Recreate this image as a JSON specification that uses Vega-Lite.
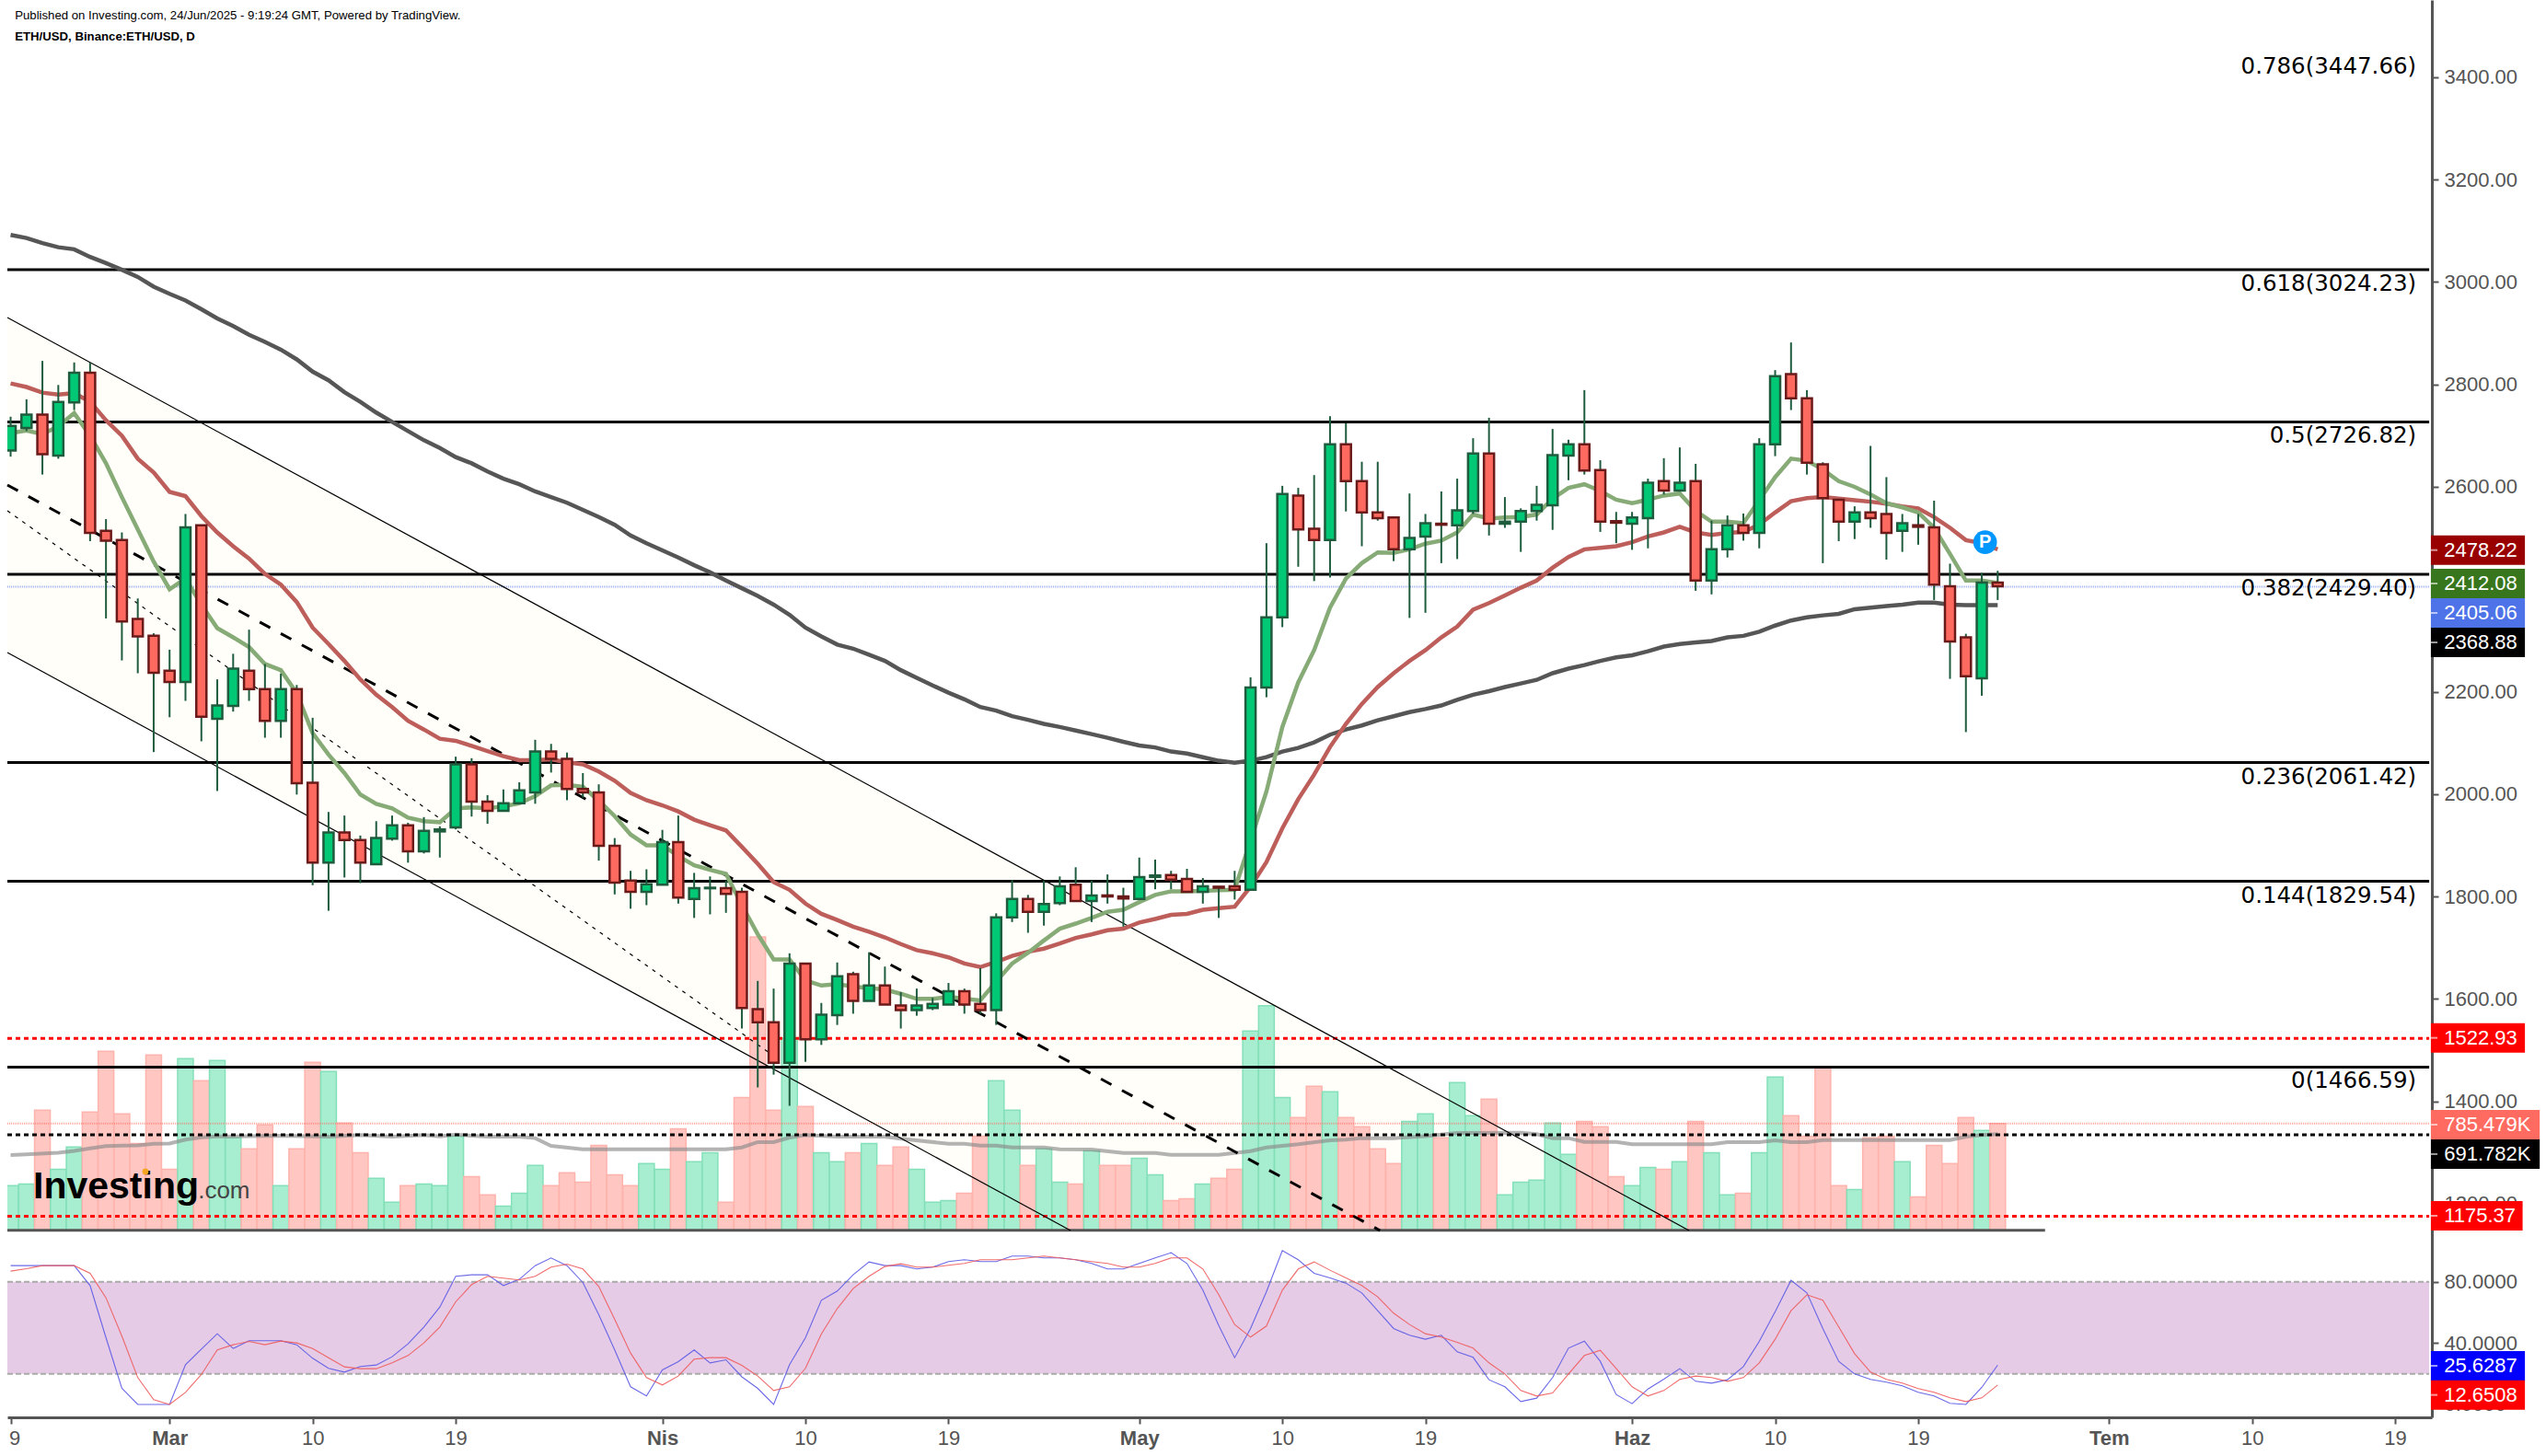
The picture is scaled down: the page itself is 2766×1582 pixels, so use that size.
{
"$schema":"https://vega.github.io/schema/vega-lite/v6.json",
"width":2634,"height":1540,
"autosize":{"type":"none"},
"padding":{"left":8,"top":0,"right":124,"bottom":42},
"background":"#ffffff",
"config":{"view":{"stroke":null},"font":"Liberation Sans"},
"datasets":{
"candles":[
{"date":"2025-02-19","open":2671,"high":2737,"low":2659,"close":2719,"dir":"up"},
{"date":"2025-02-20","open":2715,"high":2771,"low":2709,"close":2741,"dir":"up"},
{"date":"2025-02-21","open":2741,"high":2846,"low":2624,"close":2664,"dir":"down"},
{"date":"2025-02-22","open":2661,"high":2799,"low":2655,"close":2766,"dir":"up"},
{"date":"2025-02-23","open":2765,"high":2843,"low":2750,"close":2823,"dir":"up"},
{"date":"2025-02-24","open":2823,"high":2843,"low":2494,"close":2510,"dir":"down"},
{"date":"2025-02-25","open":2514,"high":2537,"low":2343,"close":2495,"dir":"down"},
{"date":"2025-02-26","open":2496,"high":2511,"low":2261,"close":2337,"dir":"down"},
{"date":"2025-02-27","open":2342,"high":2382,"low":2236,"close":2308,"dir":"down"},
{"date":"2025-02-28","open":2309,"high":2314,"low":2082,"close":2237,"dir":"down"},
{"date":"2025-03-01","open":2241,"high":2282,"low":2150,"close":2219,"dir":"down"},
{"date":"2025-03-02","open":2219,"high":2547,"low":2182,"close":2521,"dir":"up"},
{"date":"2025-03-03","open":2525,"high":2525,"low":2103,"close":2151,"dir":"down"},
{"date":"2025-03-04","open":2147,"high":2224,"low":2006,"close":2173,"dir":"up"},
{"date":"2025-03-05","open":2172,"high":2274,"low":2161,"close":2245,"dir":"up"},
{"date":"2025-03-06","open":2241,"high":2321,"low":2182,"close":2205,"dir":"down"},
{"date":"2025-03-07","open":2205,"high":2254,"low":2110,"close":2143,"dir":"down"},
{"date":"2025-03-08","open":2143,"high":2235,"low":2110,"close":2205,"dir":"up"},
{"date":"2025-03-09","open":2205,"high":2213,"low":1999,"close":2021,"dir":"down"},
{"date":"2025-03-10","open":2022,"high":2149,"low":1822,"close":1866,"dir":"down"},
{"date":"2025-03-11","open":1866,"high":1965,"low":1772,"close":1925,"dir":"up"},
{"date":"2025-03-12","open":1925,"high":1958,"low":1837,"close":1910,"dir":"down"},
{"date":"2025-03-13","open":1910,"high":1919,"low":1826,"close":1866,"dir":"down"},
{"date":"2025-03-14","open":1863,"high":1947,"low":1863,"close":1914,"dir":"up"},
{"date":"2025-03-15","open":1913,"high":1958,"low":1909,"close":1939,"dir":"up"},
{"date":"2025-03-16","open":1939,"high":1944,"low":1866,"close":1888,"dir":"down"},
{"date":"2025-03-17","open":1888,"high":1955,"low":1884,"close":1928,"dir":"up"},
{"date":"2025-03-18","open":1927,"high":1937,"low":1876,"close":1931,"dir":"up"},
{"date":"2025-03-19","open":1935,"high":2073,"low":1931,"close":2058,"dir":"up"},
{"date":"2025-03-20","open":2058,"high":2070,"low":1956,"close":1985,"dir":"down"},
{"date":"2025-03-21","open":1985,"high":1998,"low":1942,"close":1967,"dir":"down"},
{"date":"2025-03-22","open":1967,"high":2009,"low":1967,"close":1982,"dir":"up"},
{"date":"2025-03-23","open":1982,"high":2023,"low":1982,"close":2007,"dir":"up"},
{"date":"2025-03-24","open":2003,"high":2106,"low":1981,"close":2083,"dir":"up"},
{"date":"2025-03-25","open":2083,"high":2098,"low":2042,"close":2069,"dir":"down"},
{"date":"2025-03-26","open":2069,"high":2081,"low":1988,"close":2010,"dir":"down"},
{"date":"2025-03-27","open":2010,"high":2041,"low":1993,"close":2003,"dir":"down"},
{"date":"2025-03-28","open":2003,"high":2019,"low":1870,"close":1899,"dir":"down"},
{"date":"2025-03-29","open":1899,"high":1914,"low":1804,"close":1827,"dir":"down"},
{"date":"2025-03-30","open":1831,"high":1850,"low":1776,"close":1809,"dir":"down"},
{"date":"2025-03-31","open":1809,"high":1853,"low":1783,"close":1824,"dir":"up"},
{"date":"2025-04-01","open":1823,"high":1930,"low":1823,"close":1906,"dir":"up"},
{"date":"2025-04-02","open":1906,"high":1958,"low":1786,"close":1798,"dir":"down"},
{"date":"2025-04-03","open":1795,"high":1846,"low":1758,"close":1816,"dir":"up"},
{"date":"2025-04-04","open":1816,"high":1839,"low":1765,"close":1817,"dir":"up"},
{"date":"2025-04-05","open":1816,"high":1831,"low":1768,"close":1805,"dir":"down"},
{"date":"2025-04-06","open":1809,"high":1817,"low":1542,"close":1582,"dir":"down"},
{"date":"2025-04-07","open":1580,"high":1635,"low":1427,"close":1554,"dir":"down"},
{"date":"2025-04-08","open":1554,"high":1620,"low":1452,"close":1475,"dir":"down"},
{"date":"2025-04-09","open":1475,"high":1689,"low":1391,"close":1669,"dir":"up"},
{"date":"2025-04-10","open":1669,"high":1669,"low":1477,"close":1521,"dir":"down"},
{"date":"2025-04-11","open":1521,"high":1592,"low":1510,"close":1569,"dir":"up"},
{"date":"2025-04-12","open":1568,"high":1671,"low":1549,"close":1644,"dir":"up"},
{"date":"2025-04-13","open":1648,"high":1653,"low":1571,"close":1596,"dir":"down"},
{"date":"2025-04-14","open":1596,"high":1691,"low":1596,"close":1626,"dir":"up"},
{"date":"2025-04-15","open":1626,"high":1663,"low":1589,"close":1589,"dir":"down"},
{"date":"2025-04-16","open":1587,"high":1613,"low":1542,"close":1578,"dir":"down"},
{"date":"2025-04-17","open":1578,"high":1620,"low":1567,"close":1587,"dir":"up"},
{"date":"2025-04-18","open":1582,"high":1602,"low":1578,"close":1590,"dir":"up"},
{"date":"2025-04-19","open":1589,"high":1631,"low":1589,"close":1615,"dir":"up"},
{"date":"2025-04-20","open":1615,"high":1620,"low":1571,"close":1589,"dir":"down"},
{"date":"2025-04-21","open":1590,"high":1660,"low":1571,"close":1578,"dir":"down"},
{"date":"2025-04-22","open":1578,"high":1767,"low":1549,"close":1759,"dir":"up"},
{"date":"2025-04-23","open":1759,"high":1832,"low":1750,"close":1795,"dir":"up"},
{"date":"2025-04-24","open":1795,"high":1803,"low":1729,"close":1770,"dir":"down"},
{"date":"2025-04-25","open":1770,"high":1831,"low":1743,"close":1785,"dir":"up"},
{"date":"2025-04-26","open":1787,"high":1839,"low":1783,"close":1820,"dir":"up"},
{"date":"2025-04-27","open":1823,"high":1857,"low":1791,"close":1791,"dir":"down"},
{"date":"2025-04-28","open":1791,"high":1831,"low":1750,"close":1802,"dir":"up"},
{"date":"2025-04-29","open":1802,"high":1843,"low":1786,"close":1800,"dir":"down"},
{"date":"2025-04-30","open":1800,"high":1817,"low":1741,"close":1796,"dir":"down"},
{"date":"2025-05-01","open":1795,"high":1876,"low":1795,"close":1838,"dir":"up"},
{"date":"2025-05-02","open":1838,"high":1872,"low":1814,"close":1841,"dir":"up"},
{"date":"2025-05-03","open":1842,"high":1850,"low":1814,"close":1833,"dir":"down"},
{"date":"2025-05-04","open":1834,"high":1854,"low":1809,"close":1809,"dir":"down"},
{"date":"2025-05-05","open":1809,"high":1836,"low":1786,"close":1820,"dir":"up"},
{"date":"2025-05-06","open":1819,"high":1819,"low":1758,"close":1817,"dir":"down"},
{"date":"2025-05-07","open":1820,"high":1850,"low":1794,"close":1813,"dir":"down"},
{"date":"2025-05-08","open":1813,"high":2228,"low":1813,"close":2208,"dir":"up"},
{"date":"2025-05-09","open":2208,"high":2490,"low":2189,"close":2345,"dir":"up"},
{"date":"2025-05-10","open":2345,"high":2602,"low":2326,"close":2586,"dir":"up"},
{"date":"2025-05-11","open":2583,"high":2598,"low":2444,"close":2517,"dir":"down"},
{"date":"2025-05-12","open":2518,"high":2623,"low":2416,"close":2496,"dir":"down"},
{"date":"2025-05-13","open":2496,"high":2738,"low":2423,"close":2683,"dir":"up"},
{"date":"2025-05-14","open":2683,"high":2724,"low":2552,"close":2611,"dir":"down"},
{"date":"2025-05-15","open":2611,"high":2649,"low":2484,"close":2550,"dir":"down"},
{"date":"2025-05-16","open":2550,"high":2649,"low":2534,"close":2539,"dir":"down"},
{"date":"2025-05-17","open":2540,"high":2540,"low":2455,"close":2478,"dir":"down"},
{"date":"2025-05-18","open":2478,"high":2587,"low":2344,"close":2500,"dir":"up"},
{"date":"2025-05-19","open":2503,"high":2547,"low":2354,"close":2529,"dir":"up"},
{"date":"2025-05-20","open":2528,"high":2591,"low":2451,"close":2526,"dir":"down"},
{"date":"2025-05-21","open":2525,"high":2616,"low":2459,"close":2554,"dir":"up"},
{"date":"2025-05-22","open":2553,"high":2695,"low":2547,"close":2665,"dir":"up"},
{"date":"2025-05-23","open":2665,"high":2735,"low":2505,"close":2528,"dir":"down"},
{"date":"2025-05-24","open":2528,"high":2580,"low":2520,"close":2532,"dir":"up"},
{"date":"2025-05-25","open":2532,"high":2558,"low":2473,"close":2553,"dir":"up"},
{"date":"2025-05-26","open":2553,"high":2602,"low":2534,"close":2565,"dir":"up"},
{"date":"2025-05-27","open":2564,"high":2713,"low":2516,"close":2662,"dir":"up"},
{"date":"2025-05-28","open":2661,"high":2692,"low":2613,"close":2683,"dir":"up"},
{"date":"2025-05-29","open":2683,"high":2789,"low":2624,"close":2632,"dir":"down"},
{"date":"2025-05-30","open":2633,"high":2652,"low":2512,"close":2532,"dir":"down"},
{"date":"2025-05-31","open":2533,"high":2551,"low":2490,"close":2530,"dir":"down"},
{"date":"2025-06-01","open":2528,"high":2551,"low":2477,"close":2540,"dir":"up"},
{"date":"2025-06-02","open":2539,"high":2616,"low":2480,"close":2608,"dir":"up"},
{"date":"2025-06-03","open":2611,"high":2656,"low":2585,"close":2593,"dir":"down"},
{"date":"2025-06-04","open":2593,"high":2677,"low":2593,"close":2608,"dir":"up"},
{"date":"2025-06-05","open":2611,"high":2645,"low":2397,"close":2417,"dir":"down"},
{"date":"2025-06-06","open":2417,"high":2534,"low":2390,"close":2478,"dir":"up"},
{"date":"2025-06-07","open":2478,"high":2544,"low":2462,"close":2525,"dir":"up"},
{"date":"2025-06-08","open":2525,"high":2548,"low":2495,"close":2510,"dir":"down"},
{"date":"2025-06-09","open":2510,"high":2695,"low":2480,"close":2683,"dir":"up"},
{"date":"2025-06-10","open":2683,"high":2828,"low":2660,"close":2816,"dir":"up"},
{"date":"2025-06-11","open":2820,"high":2882,"low":2750,"close":2773,"dir":"down"},
{"date":"2025-06-12","open":2773,"high":2789,"low":2624,"close":2647,"dir":"down"},
{"date":"2025-06-13","open":2644,"high":2648,"low":2451,"close":2578,"dir":"down"},
{"date":"2025-06-14","open":2575,"high":2575,"low":2494,"close":2532,"dir":"down"},
{"date":"2025-06-15","open":2532,"high":2562,"low":2498,"close":2550,"dir":"up"},
{"date":"2025-06-16","open":2550,"high":2680,"low":2520,"close":2539,"dir":"down"},
{"date":"2025-06-17","open":2547,"high":2619,"low":2458,"close":2510,"dir":"down"},
{"date":"2025-06-18","open":2514,"high":2547,"low":2473,"close":2529,"dir":"up"},
{"date":"2025-06-19","open":2525,"high":2547,"low":2487,"close":2522,"dir":"down"},
{"date":"2025-06-20","open":2521,"high":2573,"low":2379,"close":2409,"dir":"down"},
{"date":"2025-06-21","open":2406,"high":2450,"low":2225,"close":2298,"dir":"down"},
{"date":"2025-06-22","open":2306,"high":2313,"low":2121,"close":2230,"dir":"down"},
{"date":"2025-06-23","open":2226,"high":2432,"low":2192,"close":2413,"dir":"up"},
{"date":"2025-06-24","open":2413,"high":2436,"low":2379,"close":2406,"dir":"down"}
],
"ma200":[
{"date":"2025-02-19","price":3092},{"date":"2025-02-20","price":3086},{"date":"2025-02-21","price":3076},{"date":"2025-02-22","price":3068},{"date":"2025-02-23","price":3064},{"date":"2025-02-24","price":3049},{"date":"2025-02-25","price":3037},{"date":"2025-02-26","price":3024},{"date":"2025-02-27","price":3010},{"date":"2025-02-28","price":2991},{"date":"2025-03-01","price":2977},{"date":"2025-03-02","price":2964},{"date":"2025-03-03","price":2947},{"date":"2025-03-04","price":2929},{"date":"2025-03-05","price":2914},{"date":"2025-03-06","price":2897},{"date":"2025-03-07","price":2883},{"date":"2025-03-08","price":2868},{"date":"2025-03-09","price":2849},{"date":"2025-03-10","price":2825},{"date":"2025-03-11","price":2808},{"date":"2025-03-12","price":2785},{"date":"2025-03-13","price":2766},{"date":"2025-03-14","price":2745},{"date":"2025-03-15","price":2727},{"date":"2025-03-16","price":2709},{"date":"2025-03-17","price":2691},{"date":"2025-03-18","price":2676},{"date":"2025-03-19","price":2658},{"date":"2025-03-20","price":2646},{"date":"2025-03-21","price":2630},{"date":"2025-03-22","price":2616},{"date":"2025-03-23","price":2605},{"date":"2025-03-24","price":2591},{"date":"2025-03-25","price":2580},{"date":"2025-03-26","price":2569},{"date":"2025-03-27","price":2555},{"date":"2025-03-28","price":2541},{"date":"2025-03-29","price":2526},{"date":"2025-03-30","price":2505},{"date":"2025-03-31","price":2490},{"date":"2025-04-01","price":2476},{"date":"2025-04-02","price":2462},{"date":"2025-04-03","price":2447},{"date":"2025-04-04","price":2433},{"date":"2025-04-05","price":2417},{"date":"2025-04-06","price":2402},{"date":"2025-04-07","price":2387},{"date":"2025-04-08","price":2370},{"date":"2025-04-09","price":2350},{"date":"2025-04-10","price":2325},{"date":"2025-04-11","price":2308},{"date":"2025-04-12","price":2292},{"date":"2025-04-13","price":2284},{"date":"2025-04-14","price":2272},{"date":"2025-04-15","price":2260},{"date":"2025-04-16","price":2242},{"date":"2025-04-17","price":2227},{"date":"2025-04-18","price":2212},{"date":"2025-04-19","price":2198},{"date":"2025-04-20","price":2185},{"date":"2025-04-21","price":2170},{"date":"2025-04-22","price":2163},{"date":"2025-04-23","price":2152},{"date":"2025-04-24","price":2145},{"date":"2025-04-25","price":2137},{"date":"2025-04-26","price":2131},{"date":"2025-04-27","price":2124},{"date":"2025-04-28","price":2117},{"date":"2025-04-29","price":2110},{"date":"2025-04-30","price":2102},{"date":"2025-05-01","price":2095},{"date":"2025-05-02","price":2091},{"date":"2025-05-03","price":2083},{"date":"2025-05-04","price":2079},{"date":"2025-05-05","price":2072},{"date":"2025-05-06","price":2065},{"date":"2025-05-07","price":2061},{"date":"2025-05-08","price":2065},{"date":"2025-05-09","price":2072},{"date":"2025-05-10","price":2083},{"date":"2025-05-11","price":2090},{"date":"2025-05-12","price":2101},{"date":"2025-05-13","price":2116},{"date":"2025-05-14","price":2126},{"date":"2025-05-15","price":2134},{"date":"2025-05-16","price":2144},{"date":"2025-05-17","price":2152},{"date":"2025-05-18","price":2160},{"date":"2025-05-19","price":2166},{"date":"2025-05-20","price":2173},{"date":"2025-05-21","price":2184},{"date":"2025-05-22","price":2194},{"date":"2025-05-23","price":2201},{"date":"2025-05-24","price":2209},{"date":"2025-05-25","price":2216},{"date":"2025-05-26","price":2223},{"date":"2025-05-27","price":2236},{"date":"2025-05-28","price":2245},{"date":"2025-05-29","price":2252},{"date":"2025-05-30","price":2260},{"date":"2025-05-31","price":2267},{"date":"2025-06-01","price":2271},{"date":"2025-06-02","price":2279},{"date":"2025-06-03","price":2288},{"date":"2025-06-04","price":2293},{"date":"2025-06-05","price":2296},{"date":"2025-06-06","price":2299},{"date":"2025-06-07","price":2306},{"date":"2025-06-08","price":2309},{"date":"2025-06-09","price":2317},{"date":"2025-06-10","price":2329},{"date":"2025-06-11","price":2339},{"date":"2025-06-12","price":2345},{"date":"2025-06-13","price":2349},{"date":"2025-06-14","price":2352},{"date":"2025-06-15","price":2361},{"date":"2025-06-16","price":2364},{"date":"2025-06-17","price":2367},{"date":"2025-06-18","price":2370},{"date":"2025-06-19","price":2374},{"date":"2025-06-20","price":2374},{"date":"2025-06-21","price":2370},{"date":"2025-06-22","price":2369},{"date":"2025-06-23","price":2369},{"date":"2025-06-24","price":2369}
],
"ema50":[
{"date":"2025-02-19","price":2802},{"date":"2025-02-20","price":2795},{"date":"2025-02-21","price":2784},{"date":"2025-02-22","price":2780},{"date":"2025-02-23","price":2783},{"date":"2025-02-24","price":2766},{"date":"2025-02-25","price":2730},{"date":"2025-02-26","price":2700},{"date":"2025-02-27","price":2655},{"date":"2025-02-28","price":2628},{"date":"2025-03-01","price":2590},{"date":"2025-03-02","price":2582},{"date":"2025-03-03","price":2543},{"date":"2025-03-04","price":2511},{"date":"2025-03-05","price":2484},{"date":"2025-03-06","price":2460},{"date":"2025-03-07","price":2430},{"date":"2025-03-08","price":2409},{"date":"2025-03-09","price":2375},{"date":"2025-03-10","price":2325},{"date":"2025-03-11","price":2293},{"date":"2025-03-12","price":2260},{"date":"2025-03-13","price":2224},{"date":"2025-03-14","price":2194},{"date":"2025-03-15","price":2170},{"date":"2025-03-16","price":2143},{"date":"2025-03-17","price":2126},{"date":"2025-03-18","price":2108},{"date":"2025-03-19","price":2104},{"date":"2025-03-20","price":2094},{"date":"2025-03-21","price":2084},{"date":"2025-03-22","price":2074},{"date":"2025-03-23","price":2066},{"date":"2025-03-24","price":2066},{"date":"2025-03-25","price":2068},{"date":"2025-03-26","price":2062},{"date":"2025-03-27","price":2058},{"date":"2025-03-28","price":2044},{"date":"2025-03-29","price":2026},{"date":"2025-03-30","price":2002},{"date":"2025-03-31","price":1988},{"date":"2025-04-01","price":1978},{"date":"2025-04-02","price":1966},{"date":"2025-04-03","price":1950},{"date":"2025-04-04","price":1939},{"date":"2025-04-05","price":1929},{"date":"2025-04-06","price":1897},{"date":"2025-04-07","price":1864},{"date":"2025-04-08","price":1828},{"date":"2025-04-09","price":1813},{"date":"2025-04-10","price":1786},{"date":"2025-04-11","price":1766},{"date":"2025-04-12","price":1754},{"date":"2025-04-13","price":1741},{"date":"2025-04-14","price":1731},{"date":"2025-04-15","price":1720},{"date":"2025-04-16","price":1707},{"date":"2025-04-17","price":1695},{"date":"2025-04-18","price":1689},{"date":"2025-04-19","price":1681},{"date":"2025-04-20","price":1669},{"date":"2025-04-21","price":1662},{"date":"2025-04-22","price":1672},{"date":"2025-04-23","price":1684},{"date":"2025-04-24","price":1692},{"date":"2025-04-25","price":1698},{"date":"2025-04-26","price":1708},{"date":"2025-04-27","price":1719},{"date":"2025-04-28","price":1726},{"date":"2025-04-29","price":1734},{"date":"2025-04-30","price":1737},{"date":"2025-05-01","price":1749},{"date":"2025-05-02","price":1756},{"date":"2025-05-03","price":1764},{"date":"2025-05-04","price":1766},{"date":"2025-05-05","price":1774},{"date":"2025-05-06","price":1777},{"date":"2025-05-07","price":1780},{"date":"2025-05-08","price":1819},{"date":"2025-05-09","price":1867},{"date":"2025-05-10","price":1933},{"date":"2025-05-11","price":1990},{"date":"2025-05-12","price":2038},{"date":"2025-05-13","price":2092},{"date":"2025-05-14","price":2137},{"date":"2025-05-15","price":2176},{"date":"2025-05-16","price":2209},{"date":"2025-05-17","price":2236},{"date":"2025-05-18","price":2260},{"date":"2025-05-19","price":2281},{"date":"2025-05-20","price":2306},{"date":"2025-05-21","price":2327},{"date":"2025-05-22","price":2360},{"date":"2025-05-23","price":2373},{"date":"2025-05-24","price":2388},{"date":"2025-05-25","price":2403},{"date":"2025-05-26","price":2417},{"date":"2025-05-27","price":2442},{"date":"2025-05-28","price":2463},{"date":"2025-05-29","price":2478},{"date":"2025-05-30","price":2481},{"date":"2025-05-31","price":2484},{"date":"2025-06-01","price":2492},{"date":"2025-06-02","price":2503},{"date":"2025-06-03","price":2511},{"date":"2025-06-04","price":2522},{"date":"2025-06-05","price":2511},{"date":"2025-06-06","price":2506},{"date":"2025-06-07","price":2510},{"date":"2025-06-08","price":2512},{"date":"2025-06-09","price":2526},{"date":"2025-06-10","price":2550},{"date":"2025-06-11","price":2572},{"date":"2025-06-12","price":2578},{"date":"2025-06-13","price":2580},{"date":"2025-06-14","price":2577},{"date":"2025-06-15","price":2574},{"date":"2025-06-16","price":2571},{"date":"2025-06-17","price":2567},{"date":"2025-06-18","price":2562},{"date":"2025-06-19","price":2558},{"date":"2025-06-20","price":2541},{"date":"2025-06-21","price":2520},{"date":"2025-06-22","price":2496},{"date":"2025-06-23","price":2490},{"date":"2025-06-24","price":2478}
],
"ema20":[
{"date":"2025-02-19","price":2705},{"date":"2025-02-20","price":2710},{"date":"2025-02-21","price":2703},{"date":"2025-02-22","price":2718},{"date":"2025-02-23","price":2744},{"date":"2025-02-24","price":2700},{"date":"2025-02-25","price":2646},{"date":"2025-02-26","price":2580},{"date":"2025-02-27","price":2517},{"date":"2025-02-28","price":2454},{"date":"2025-03-01","price":2400},{"date":"2025-03-02","price":2421},{"date":"2025-03-03","price":2370},{"date":"2025-03-04","price":2324},{"date":"2025-03-05","price":2306},{"date":"2025-03-06","price":2287},{"date":"2025-03-07","price":2254},{"date":"2025-03-08","price":2242},{"date":"2025-03-09","price":2197},{"date":"2025-03-10","price":2119},{"date":"2025-03-11","price":2077},{"date":"2025-03-12","price":2041},{"date":"2025-03-13","price":1999},{"date":"2025-03-14","price":1981},{"date":"2025-03-15","price":1972},{"date":"2025-03-16","price":1954},{"date":"2025-03-17","price":1947},{"date":"2025-03-18","price":1945},{"date":"2025-03-19","price":1972},{"date":"2025-03-20","price":1974},{"date":"2025-03-21","price":1972},{"date":"2025-03-22","price":1976},{"date":"2025-03-23","price":1982},{"date":"2025-03-24","price":1996},{"date":"2025-03-25","price":2017},{"date":"2025-03-26","price":2018},{"date":"2025-03-27","price":2014},{"date":"2025-03-28","price":1987},{"date":"2025-03-29","price":1957},{"date":"2025-03-30","price":1921},{"date":"2025-03-31","price":1900},{"date":"2025-04-01","price":1900},{"date":"2025-04-02","price":1879},{"date":"2025-04-03","price":1861},{"date":"2025-04-04","price":1852},{"date":"2025-04-05","price":1844},{"date":"2025-04-06","price":1783},{"date":"2025-04-07","price":1726},{"date":"2025-04-08","price":1677},{"date":"2025-04-09","price":1677},{"date":"2025-04-10","price":1636},{"date":"2025-04-11","price":1626},{"date":"2025-04-12","price":1629},{"date":"2025-04-13","price":1624},{"date":"2025-04-14","price":1621},{"date":"2025-04-15","price":1618},{"date":"2025-04-16","price":1610},{"date":"2025-04-17","price":1600},{"date":"2025-04-18","price":1600},{"date":"2025-04-19","price":1604},{"date":"2025-04-20","price":1600},{"date":"2025-04-21","price":1597},{"date":"2025-04-22","price":1634},{"date":"2025-04-23","price":1669},{"date":"2025-04-24","price":1690},{"date":"2025-04-25","price":1714},{"date":"2025-04-26","price":1737},{"date":"2025-04-27","price":1747},{"date":"2025-04-28","price":1758},{"date":"2025-04-29","price":1770},{"date":"2025-04-30","price":1774},{"date":"2025-05-01","price":1789},{"date":"2025-05-02","price":1803},{"date":"2025-05-03","price":1810},{"date":"2025-05-04","price":1810},{"date":"2025-05-05","price":1811},{"date":"2025-05-06","price":1812},{"date":"2025-05-07","price":1813},{"date":"2025-05-08","price":1909},{"date":"2025-05-09","price":2005},{"date":"2025-05-10","price":2131},{"date":"2025-05-11","price":2218},{"date":"2025-05-12","price":2281},{"date":"2025-05-13","price":2364},{"date":"2025-05-14","price":2421},{"date":"2025-05-15","price":2451},{"date":"2025-05-16","price":2472},{"date":"2025-05-17","price":2471},{"date":"2025-05-18","price":2478},{"date":"2025-05-19","price":2489},{"date":"2025-05-20","price":2495},{"date":"2025-05-21","price":2511},{"date":"2025-05-22","price":2546},{"date":"2025-05-23","price":2538},{"date":"2025-05-24","price":2540},{"date":"2025-05-25","price":2541},{"date":"2025-05-26","price":2546},{"date":"2025-05-27","price":2577},{"date":"2025-05-28","price":2598},{"date":"2025-05-29","price":2605},{"date":"2025-05-30","price":2592},{"date":"2025-05-31","price":2575},{"date":"2025-06-01","price":2568},{"date":"2025-06-02","price":2575},{"date":"2025-06-03","price":2583},{"date":"2025-06-04","price":2587},{"date":"2025-06-05","price":2553},{"date":"2025-06-06","price":2532},{"date":"2025-06-07","price":2532},{"date":"2025-06-08","price":2529},{"date":"2025-06-09","price":2574},{"date":"2025-06-10","price":2619},{"date":"2025-06-11","price":2655},{"date":"2025-06-12","price":2651},{"date":"2025-06-13","price":2634},{"date":"2025-06-14","price":2611},{"date":"2025-06-15","price":2600},{"date":"2025-06-16","price":2585},{"date":"2025-06-17","price":2568},{"date":"2025-06-18","price":2560},{"date":"2025-06-19","price":2550},{"date":"2025-06-20","price":2520},{"date":"2025-06-21","price":2469},{"date":"2025-06-22","price":2417},{"date":"2025-06-23","price":2417},{"date":"2025-06-24","price":2412}
],
"volume":[
{"date":"2025-02-19","vol":270,"dir":"up"},{"date":"2025-02-20","vol":285,"dir":"up"},{"date":"2025-02-21","vol":895,"dir":"down"},{"date":"2025-02-22","vol":407,"dir":"up"},{"date":"2025-02-23","vol":590,"dir":"up"},{"date":"2025-02-24","vol":880,"dir":"down"},{"date":"2025-02-25","vol":1382,"dir":"down"},{"date":"2025-02-26","vol":864,"dir":"down"},{"date":"2025-02-27","vol":620,"dir":"down"},{"date":"2025-02-28","vol":1352,"dir":"down"},{"date":"2025-03-01","vol":407,"dir":"down"},{"date":"2025-03-02","vol":1321,"dir":"up"},{"date":"2025-03-03","vol":1139,"dir":"down"},{"date":"2025-03-04","vol":1306,"dir":"up"},{"date":"2025-03-05","vol":666,"dir":"up"},{"date":"2025-03-06","vol":575,"dir":"down"},{"date":"2025-03-07","vol":773,"dir":"down"},{"date":"2025-03-08","vol":270,"dir":"up"},{"date":"2025-03-09","vol":575,"dir":"down"},{"date":"2025-03-10","vol":1291,"dir":"down"},{"date":"2025-03-11","vol":1215,"dir":"up"},{"date":"2025-03-12","vol":788,"dir":"down"},{"date":"2025-03-13","vol":544,"dir":"down"},{"date":"2025-03-14","vol":331,"dir":"up"},{"date":"2025-03-15","vol":133,"dir":"up"},{"date":"2025-03-16","vol":270,"dir":"down"},{"date":"2025-03-17","vol":285,"dir":"up"},{"date":"2025-03-18","vol":270,"dir":"up"},{"date":"2025-03-19","vol":681,"dir":"up"},{"date":"2025-03-20","vol":346,"dir":"down"},{"date":"2025-03-21","vol":194,"dir":"down"},{"date":"2025-03-22","vol":102,"dir":"up"},{"date":"2025-03-23","vol":209,"dir":"up"},{"date":"2025-03-24","vol":438,"dir":"up"},{"date":"2025-03-25","vol":270,"dir":"down"},{"date":"2025-03-26","vol":377,"dir":"down"},{"date":"2025-03-27","vol":300,"dir":"down"},{"date":"2025-03-28","vol":605,"dir":"down"},{"date":"2025-03-29","vol":361,"dir":"down"},{"date":"2025-03-30","vol":270,"dir":"down"},{"date":"2025-03-31","vol":453,"dir":"up"},{"date":"2025-04-01","vol":407,"dir":"up"},{"date":"2025-04-02","vol":742,"dir":"down"},{"date":"2025-04-03","vol":468,"dir":"up"},{"date":"2025-04-04","vol":544,"dir":"up"},{"date":"2025-04-05","vol":133,"dir":"down"},{"date":"2025-04-06","vol":1001,"dir":"down"},{"date":"2025-04-07","vol":2329,"dir":"down"},{"date":"2025-04-08","vol":895,"dir":"down"},{"date":"2025-04-09","vol":1491,"dir":"up"},{"date":"2025-04-10","vol":925,"dir":"down"},{"date":"2025-04-11","vol":544,"dir":"up"},{"date":"2025-04-12","vol":468,"dir":"up"},{"date":"2025-04-13","vol":544,"dir":"down"},{"date":"2025-04-14","vol":620,"dir":"up"},{"date":"2025-04-15","vol":438,"dir":"down"},{"date":"2025-04-16","vol":590,"dir":"down"},{"date":"2025-04-17","vol":407,"dir":"up"},{"date":"2025-04-18","vol":133,"dir":"up"},{"date":"2025-04-19","vol":148,"dir":"up"},{"date":"2025-04-20","vol":209,"dir":"down"},{"date":"2025-04-21","vol":681,"dir":"down"},{"date":"2025-04-22","vol":1139,"dir":"up"},{"date":"2025-04-23","vol":895,"dir":"up"},{"date":"2025-04-24","vol":438,"dir":"down"},{"date":"2025-04-25","vol":575,"dir":"up"},{"date":"2025-04-26","vol":300,"dir":"up"},{"date":"2025-04-27","vol":285,"dir":"down"},{"date":"2025-04-28","vol":559,"dir":"up"},{"date":"2025-04-29","vol":438,"dir":"down"},{"date":"2025-04-30","vol":438,"dir":"down"},{"date":"2025-05-01","vol":498,"dir":"up"},{"date":"2025-05-02","vol":361,"dir":"up"},{"date":"2025-05-03","vol":148,"dir":"down"},{"date":"2025-05-04","vol":163,"dir":"down"},{"date":"2025-05-05","vol":285,"dir":"up"},{"date":"2025-05-06","vol":331,"dir":"down"},{"date":"2025-05-07","vol":407,"dir":"down"},{"date":"2025-05-08","vol":1550,"dir":"up"},{"date":"2025-05-09","vol":1760,"dir":"up"},{"date":"2025-05-10","vol":1001,"dir":"up"},{"date":"2025-05-11","vol":834,"dir":"down"},{"date":"2025-05-12","vol":1093,"dir":"down"},{"date":"2025-05-13","vol":1047,"dir":"up"},{"date":"2025-05-14","vol":834,"dir":"down"},{"date":"2025-05-15","vol":758,"dir":"down"},{"date":"2025-05-16","vol":575,"dir":"down"},{"date":"2025-05-17","vol":453,"dir":"down"},{"date":"2025-05-18","vol":803,"dir":"up"},{"date":"2025-05-19","vol":864,"dir":"up"},{"date":"2025-05-20","vol":666,"dir":"down"},{"date":"2025-05-21","vol":1123,"dir":"up"},{"date":"2025-05-22","vol":849,"dir":"up"},{"date":"2025-05-23","vol":986,"dir":"down"},{"date":"2025-05-24","vol":194,"dir":"up"},{"date":"2025-05-25","vol":300,"dir":"up"},{"date":"2025-05-26","vol":316,"dir":"up"},{"date":"2025-05-27","vol":788,"dir":"up"},{"date":"2025-05-28","vol":529,"dir":"up"},{"date":"2025-05-29","vol":803,"dir":"down"},{"date":"2025-05-30","vol":758,"dir":"down"},{"date":"2025-05-31","vol":346,"dir":"down"},{"date":"2025-06-01","vol":270,"dir":"up"},{"date":"2025-06-02","vol":422,"dir":"up"},{"date":"2025-06-03","vol":407,"dir":"down"},{"date":"2025-06-04","vol":468,"dir":"up"},{"date":"2025-06-05","vol":803,"dir":"down"},{"date":"2025-06-06","vol":544,"dir":"up"},{"date":"2025-06-07","vol":194,"dir":"up"},{"date":"2025-06-08","vol":209,"dir":"down"},{"date":"2025-06-09","vol":544,"dir":"up"},{"date":"2025-06-10","vol":1169,"dir":"up"},{"date":"2025-06-11","vol":849,"dir":"down"},{"date":"2025-06-12","vol":681,"dir":"down"},{"date":"2025-06-13","vol":1245,"dir":"down"},{"date":"2025-06-14","vol":270,"dir":"down"},{"date":"2025-06-15","vol":239,"dir":"up"},{"date":"2025-06-16","vol":666,"dir":"down"},{"date":"2025-06-17","vol":681,"dir":"down"},{"date":"2025-06-18","vol":468,"dir":"up"},{"date":"2025-06-19","vol":178,"dir":"down"},{"date":"2025-06-20","vol":605,"dir":"down"},{"date":"2025-06-21","vol":453,"dir":"down"},{"date":"2025-06-22","vol":834,"dir":"down"},{"date":"2025-06-23","vol":727,"dir":"up"},{"date":"2025-06-24","vol":785.479,"dir":"down"}
],
"volMa":[
{"date":"2025-02-19","vol":524},{"date":"2025-02-20","vol":529},{"date":"2025-02-22","vol":544},{"date":"2025-02-23","vol":559},{"date":"2025-02-24","vol":580},{"date":"2025-02-25","vol":598},{"date":"2025-02-26","vol":603},{"date":"2025-02-27","vol":605},{"date":"2025-02-28","vol":618},{"date":"2025-03-01","vol":620},{"date":"2025-03-02","vol":651},{"date":"2025-03-03","vol":671},{"date":"2025-03-04","vol":679},{"date":"2025-03-05","vol":679},{"date":"2025-03-08","vol":684},{"date":"2025-03-11","vol":676},{"date":"2025-03-13","vol":689},{"date":"2025-03-15","vol":676},{"date":"2025-03-17","vol":689},{"date":"2025-03-18","vol":679},{"date":"2025-03-19","vol":694},{"date":"2025-03-20","vol":684},{"date":"2025-03-21","vol":676},{"date":"2025-03-23","vol":676},{"date":"2025-03-24","vol":664},{"date":"2025-03-25","vol":600},{"date":"2025-03-27","vol":572},{"date":"2025-04-05","vol":572},{"date":"2025-04-06","vol":587},{"date":"2025-04-07","vol":631},{"date":"2025-04-08","vol":631},{"date":"2025-04-09","vol":669},{"date":"2025-04-10","vol":689},{"date":"2025-04-12","vol":676},{"date":"2025-04-15","vol":676},{"date":"2025-04-16","vol":659},{"date":"2025-04-19","vol":618},{"date":"2025-04-20","vol":618},{"date":"2025-04-21","vol":603},{"date":"2025-04-22","vol":603},{"date":"2025-04-23","vol":587},{"date":"2025-04-25","vol":587},{"date":"2025-04-26","vol":572},{"date":"2025-04-28","vol":570},{"date":"2025-04-30","vol":542},{"date":"2025-05-02","vol":542},{"date":"2025-05-03","vol":526},{"date":"2025-05-06","vol":526},{"date":"2025-05-08","vol":557},{"date":"2025-05-09","vol":587},{"date":"2025-05-11","vol":613},{"date":"2025-05-13","vol":646},{"date":"2025-05-14","vol":651},{"date":"2025-05-15","vol":664},{"date":"2025-05-17","vol":664},{"date":"2025-05-19","vol":681},{"date":"2025-05-20","vol":694},{"date":"2025-05-21","vol":707},{"date":"2025-05-25","vol":709},{"date":"2025-05-26","vol":697},{"date":"2025-05-27","vol":664},{"date":"2025-05-28","vol":664},{"date":"2025-05-29","vol":633},{"date":"2025-05-31","vol":633},{"date":"2025-06-01","vol":613},{"date":"2025-06-06","vol":613},{"date":"2025-06-07","vol":631},{"date":"2025-06-09","vol":631},{"date":"2025-06-10","vol":646},{"date":"2025-06-11","vol":631},{"date":"2025-06-12","vol":631},{"date":"2025-06-13","vol":648},{"date":"2025-06-21","vol":648},{"date":"2025-06-22","vol":676},{"date":"2025-06-23","vol":689},{"date":"2025-06-24","vol":697}
],
"stoch":[
{"date":"2025-02-19","k":90.5,"d":86.9},{"date":"2025-02-20","k":90.5,"d":88.5},{"date":"2025-02-21","k":90.5,"d":90.5},{"date":"2025-02-22","k":90.5,"d":90.5},{"date":"2025-02-23","k":90.5,"d":90.5},{"date":"2025-02-24","k":77.5,"d":85.5},{"date":"2025-02-25","k":43.5,"d":69.5},{"date":"2025-02-26","k":10.5,"d":44.5},{"date":"2025-02-27","k":0,"d":17.5},{"date":"2025-02-28","k":0,"d":3.1},{"date":"2025-03-01","k":0,"d":0},{"date":"2025-03-02","k":25.9,"d":7.9},{"date":"2025-03-03","k":36.1,"d":19.5},{"date":"2025-03-04","k":46.1,"d":35.5},{"date":"2025-03-05","k":36.5,"d":38.9},{"date":"2025-03-06","k":41.5,"d":41.1},{"date":"2025-03-07","k":41.5,"d":38.9},{"date":"2025-03-08","k":41.5,"d":41.3},{"date":"2025-03-09","k":38.9,"d":40.1},{"date":"2025-03-10","k":30.1,"d":36.5},{"date":"2025-03-11","k":23.5,"d":30.5},{"date":"2025-03-12","k":21.1,"d":24.5},{"date":"2025-03-13","k":24.7,"d":23.3},{"date":"2025-03-14","k":25.7,"d":23.3},{"date":"2025-03-15","k":31.1,"d":27.1},{"date":"2025-03-16","k":39.5,"d":31.9},{"date":"2025-03-17","k":50.5,"d":40.1},{"date":"2025-03-18","k":63.5,"d":50.5},{"date":"2025-03-19","k":83.5,"d":66.9},{"date":"2025-03-20","k":84.5,"d":78.1},{"date":"2025-03-21","k":84.5,"d":83.5},{"date":"2025-03-22","k":77.5,"d":82.3},{"date":"2025-03-23","k":81.5,"d":81.1},{"date":"2025-03-24","k":90.5,"d":83.5},{"date":"2025-03-25","k":95.5,"d":89.5},{"date":"2025-03-26","k":90.5,"d":91.5},{"date":"2025-03-27","k":79.5,"d":88.3},{"date":"2025-03-28","k":58.5,"d":76.9},{"date":"2025-03-29","k":35.5,"d":55.5},{"date":"2025-03-30","k":11.5,"d":33.5},{"date":"2025-03-31","k":5.5,"d":17.5},{"date":"2025-04-01","k":22.5,"d":12.7},{"date":"2025-04-02","k":27.9,"d":18.5},{"date":"2025-04-03","k":35.5,"d":29.5},{"date":"2025-04-04","k":27.1,"d":30.5},{"date":"2025-04-05","k":29.1,"d":30.5},{"date":"2025-04-06","k":18,"d":25.5},{"date":"2025-04-07","k":10.5,"d":18.5},{"date":"2025-04-08","k":0,"d":9.1},{"date":"2025-04-09","k":25.9,"d":11.5},{"date":"2025-04-10","k":43.5,"d":23.5},{"date":"2025-04-11","k":67.9,"d":45.9},{"date":"2025-04-12","k":73.9,"d":62.5},{"date":"2025-04-13","k":84.5,"d":75.5},{"date":"2025-04-14","k":92.9,"d":83.5},{"date":"2025-04-15","k":90.5,"d":89.9},{"date":"2025-04-16","k":90.5,"d":91.7},{"date":"2025-04-17","k":88.3,"d":89.5},{"date":"2025-04-18","k":89.5,"d":89.5},{"date":"2025-04-19","k":93.1,"d":90.7},{"date":"2025-04-20","k":94.3,"d":91.9},{"date":"2025-04-21","k":93.1,"d":94.3},{"date":"2025-04-22","k":93.1,"d":94.3},{"date":"2025-04-23","k":96.7,"d":94.3},{"date":"2025-04-24","k":96.7,"d":95.5},{"date":"2025-04-25","k":95.5,"d":96.7},{"date":"2025-04-26","k":95.5,"d":95.5},{"date":"2025-04-27","k":94.3,"d":94.3},{"date":"2025-04-28","k":91.9,"d":93.1},{"date":"2025-04-29","k":88.3,"d":91.9},{"date":"2025-04-30","k":88.3,"d":89.5},{"date":"2025-05-01","k":91.9,"d":89.5},{"date":"2025-05-02","k":95.5,"d":91.9},{"date":"2025-05-03","k":98.9,"d":95.5},{"date":"2025-05-04","k":91.9,"d":95.5},{"date":"2025-05-05","k":74.5,"d":88.3},{"date":"2025-05-06","k":51.5,"d":71.5},{"date":"2025-05-07","k":30.5,"d":52.1},{"date":"2025-05-08","k":49.5,"d":43.9},{"date":"2025-05-09","k":73.5,"d":51.1},{"date":"2025-05-10","k":100.3,"d":74.5},{"date":"2025-05-11","k":94.3,"d":88.3},{"date":"2025-05-12","k":85.5,"d":92.9},{"date":"2025-05-13","k":82.5,"d":87.5},{"date":"2025-05-14","k":79.1,"d":82.5},{"date":"2025-05-15","k":72.7,"d":77.5},{"date":"2025-05-16","k":61.1,"d":70.1},{"date":"2025-05-17","k":49.5,"d":59.5},{"date":"2025-05-18","k":45.1,"d":52.1},{"date":"2025-05-19","k":42.5,"d":46.1},{"date":"2025-05-20","k":45.1,"d":43.9},{"date":"2025-05-21","k":34.3,"d":40.5},{"date":"2025-05-22","k":30.7,"d":36.7},{"date":"2025-05-23","k":16.1,"d":27.1},{"date":"2025-05-24","k":11.5,"d":19.9},{"date":"2025-05-25","k":1.9,"d":9.1},{"date":"2025-05-26","k":4.1,"d":5.5},{"date":"2025-05-27","k":17.5,"d":7.5},{"date":"2025-05-28","k":36.7,"d":19.9},{"date":"2025-05-29","k":41.3,"d":31.9},{"date":"2025-05-30","k":28.1,"d":35.3},{"date":"2025-05-31","k":6.5,"d":23.5},{"date":"2025-06-01","k":0.5,"d":11.5},{"date":"2025-06-02","k":10.1,"d":5.5},{"date":"2025-06-03","k":16.5,"d":9.1},{"date":"2025-06-04","k":23.3,"d":16.3},{"date":"2025-06-05","k":15.1,"d":18.5},{"date":"2025-06-06","k":13.9,"d":17.5},{"date":"2025-06-07","k":16.1,"d":15.1},{"date":"2025-06-08","k":24.7,"d":17.5},{"date":"2025-06-09","k":41.1,"d":27.1},{"date":"2025-06-10","k":60.5,"d":42.5},{"date":"2025-06-11","k":80.9,"d":61.1},{"date":"2025-06-12","k":72.7,"d":71.5},{"date":"2025-06-13","k":49.5,"d":67.9},{"date":"2025-06-14","k":28.1,"d":50.5},{"date":"2025-06-15","k":19.9,"d":33.1},{"date":"2025-06-16","k":16.3,"d":21.1},{"date":"2025-06-17","k":14.5,"d":16.3},{"date":"2025-06-18","k":12.1,"d":13.9},{"date":"2025-06-19","k":7.9,"d":10.3},{"date":"2025-06-20","k":5.5,"d":7.9},{"date":"2025-06-21","k":0.7,"d":4.3},{"date":"2025-06-22","k":0,"d":1.9},{"date":"2025-06-23","k":11.1,"d":4.3},{"date":"2025-06-24","k":25.63,"d":12.65}
],
"fib":[
{"date":"2025-02-18T19:06:00Z","end":"2025-07-21T03:30:00Z","price":3447.66,"label":"0.786(3447.66)"},
{"date":"2025-02-18T19:06:00Z","end":"2025-07-21T03:30:00Z","price":3024.23,"label":"0.618(3024.23)"},
{"date":"2025-02-18T19:06:00Z","end":"2025-07-21T03:30:00Z","price":2726.82,"label":"0.5(2726.82)"},
{"date":"2025-02-18T19:06:00Z","end":"2025-07-21T03:30:00Z","price":2429.40,"label":"0.382(2429.40)"},
{"date":"2025-02-18T19:06:00Z","end":"2025-07-21T03:30:00Z","price":2061.42,"label":"0.236(2061.42)"},
{"date":"2025-02-18T19:06:00Z","end":"2025-07-21T03:30:00Z","price":1829.54,"label":"0.144(1829.54)"},
{"date":"2025-02-18T19:06:00Z","end":"2025-07-21T03:30:00Z","price":1466.59,"label":"0(1466.59)"}
],
"alerts":[
{"date":"2025-02-18T19:06:00Z","end":"2025-07-21T03:30:00Z","price":1522.93},
{"date":"2025-02-18T19:06:00Z","end":"2025-07-21T03:30:00Z","price":1175.37}
],
"lastPrice":[
{"date":"2025-02-18T19:06:00Z","end":"2025-07-21T03:30:00Z","price":2405.06}
],
"channel":[
{"date":"2025-02-18T19:06:00Z","top":2930.8,"bottom":2276.4},
{"date":"2025-04-26T16:15:00Z","top":1803.6,"bottom":1147.5},
{"date":"2025-06-04T14:04:00Z","top":1147.5,"bottom":1147.5}
],
"channelEdges":[
{"edge":"upper","date":"2025-02-18T19:06:00Z","price":2930.8},
{"edge":"upper","date":"2025-06-04T14:04:00Z","price":1147.5},
{"edge":"lower","date":"2025-02-18T19:06:00Z","price":2276.4},
{"edge":"lower","date":"2025-04-26T16:15:00Z","price":1147.5}
],
"channelMid":[
{"date":"2025-02-18T19:06:00Z","price":2603.6},
{"date":"2025-05-16T03:30:00Z","price":1147.5}
],
"trendThin":[
{"date":"2025-02-18T19:06:00Z","price":2553.3},
{"date":"2025-04-07T23:30:00Z","price":1489}
],
"pin":[{"date":"2025-06-23T05:00:00Z","price":2492,"letter":"P"}],
"notes":[
{"date":"2025-02-19T06:30:00Z","price":3520.4,"text":"Published on Investing.com, 24/Jun/2025 - 9:19:24 GMT, Powered by TradingView."}
],
"chartName":[
{"date":"2025-02-19T06:30:00Z","price":3478.9,"text":"ETH/USD, Binance:ETH/USD, D"}
],
"logoWord":[{"date":"2025-02-20T10:00:00Z","price":1210.5,"text":"Investing"}],
"logoCom":[{"date":"2025-03-02T19:00:00Z","price":1210.5,"text":".com"}],
"logoDot":[{"date":"2025-02-27T11:30:00Z","price":1262.6}],
"volLevels":[
{"date":"2025-02-18T19:06:00Z","end":"2025-07-21T03:30:00Z","vol":691.782}
],
"volLast":[
{"date":"2025-02-18T19:06:00Z","end":"2025-07-21T03:30:00Z","vol":785.479}
],
"volBase":[
{"date":"2025-02-18T19:06:00Z","end":"2025-06-26T23:30:00Z","vol":-98}
],
"stochSpan":[
{"date":"2025-02-18T19:06:00Z","end":"2025-07-21T03:30:00Z"}
],
"badges":[
{"date":"2025-07-21T06:00:00Z","end":"2025-07-27T04:00:00Z","textAt":"2025-07-22T01:50:00Z","price":2476.5,"label":"2478.22","series":"ema50"},
{"date":"2025-07-21T06:00:00Z","end":"2025-07-27T04:00:00Z","textAt":"2025-07-22T01:50:00Z","price":2411.2,"label":"2412.08","series":"ema20"},
{"date":"2025-07-21T06:00:00Z","end":"2025-07-27T04:00:00Z","textAt":"2025-07-22T01:50:00Z","price":2353.7,"label":"2405.06","series":"last"},
{"date":"2025-07-21T06:00:00Z","end":"2025-07-27T04:00:00Z","textAt":"2025-07-22T01:50:00Z","price":2296.2,"label":"2368.88","series":"ma200"},
{"date":"2025-07-21T06:00:00Z","end":"2025-07-27T04:00:00Z","textAt":"2025-07-22T01:50:00Z","price":1523.8,"label":"1522.93","series":"alert"},
{"date":"2025-07-21T06:00:00Z","end":"2025-07-28T02:20:00Z","textAt":"2025-07-22T01:50:00Z","price":1354.3,"label":"785.479K","series":"volLast"},
{"date":"2025-07-21T06:00:00Z","end":"2025-07-28T02:20:00Z","textAt":"2025-07-22T01:50:00Z","price":1296.8,"label":"691.782K","series":"volMa"},
{"date":"2025-07-21T06:00:00Z","end":"2025-07-27T00:30:00Z","textAt":"2025-07-22T01:50:00Z","price":1176.3,"label":"1175.37","series":"alert"},
{"date":"2025-07-21T06:00:00Z","end":"2025-07-27T04:00:00Z","textAt":"2025-07-22T01:50:00Z","price":883.3,"label":"25.6287","series":"k"},
{"date":"2025-07-21T06:00:00Z","end":"2025-07-27T04:00:00Z","textAt":"2025-07-22T01:50:00Z","price":826.4,"label":"12.6508","series":"alert"}
]
},
"resolve":{"scale":{"y":"independent","fill":"independent","stroke":"independent"}},
"encoding":{
"x":{"field":"date","type":"temporal","title":null,
"scale":{"type":"utc","domain":["2025-02-18T19:06:00Z","2025-07-21T07:30:00Z"],"nice":false,"padding":0},
"axis":{"grid":false,"title":null,"domainColor":"#555555","domainWidth":3,"tickColor":"#555555","tickWidth":2,"tickSize":7,"labelColor":"#555555","labelFont":"Liberation Sans","labelFontSize":22,"labelPadding":5,"labelOverlap":false,"labelFlush":false,"labelBound":false,
"values":[{"year":2025,"month":2,"date":19,"utc":true},{"year":2025,"month":3,"date":1,"utc":true},{"year":2025,"month":3,"date":10,"utc":true},{"year":2025,"month":3,"date":19,"utc":true},{"year":2025,"month":4,"date":1,"utc":true},{"year":2025,"month":4,"date":10,"utc":true},{"year":2025,"month":4,"date":19,"utc":true},{"year":2025,"month":5,"date":1,"utc":true},{"year":2025,"month":5,"date":10,"utc":true},{"year":2025,"month":5,"date":19,"utc":true},{"year":2025,"month":6,"date":1,"utc":true},{"year":2025,"month":6,"date":10,"utc":true},{"year":2025,"month":6,"date":19,"utc":true},{"year":2025,"month":7,"date":1,"utc":true},{"year":2025,"month":7,"date":10,"utc":true},{"year":2025,"month":7,"date":19,"utc":true}],
"labelExpr":"utcdate(datum.value)==1 ? ['Oca','Şub','Mar','Nis','May','Haz','Tem'][utcmonth(datum.value)] : (utcmonth(datum.value)==1 ? '9' : ''+utcdate(datum.value))",
"labelOffset":{"condition":{"test":"utcmonth(datum.value)==1","value":4},"value":0},
"labelFontWeight":{"condition":{"test":"utcdate(datum.value)==1","value":"bold"},"value":"normal"}}
}
},
"layer":[
{"data":{"name":"channel"},
"mark":{"type":"area","color":"#fffef9","clip":true},
"encoding":{
"y":{"field":"top","type":"quantitative","scale":{"domain":[782.6,3550.9],"nice":false,"zero":false},
"axis":{"orient":"right","title":null,"grid":false,"domainColor":"#555555","domainWidth":3,"tickColor":"#555555","tickWidth":2,"tickSize":7,"labelColor":"#555555","labelFont":"Liberation Sans","labelFontSize":22,"labelPadding":6,"labelOverlap":false,"labelFlush":false,"format":".2f","values":[1200,1400,1600,1800,2000,2200,2600,2800,3000,3200,3400]}},
"y2":{"field":"bottom"}
}},
{"encoding":{"y":{"field":"vol","type":"quantitative","axis":null,"scale":{"domain":[-1646.4,10082],"nice":false,"zero":false}}},
"layer":[
{"data":{"name":"volume"},
"mark":{"type":"bar","width":17,"strokeWidth":1.5,"clip":true},
"encoding":{
"y2":{"datum":-98},
"fill":{"field":"dir","type":"nominal","legend":null,"scale":{"domain":["up","down"],"range":["#a7edcf","#ffc6c2"]}},
"stroke":{"field":"dir","type":"nominal","legend":null,"scale":{"domain":["up","down"],"range":["#84e0b9","#ffb3ad"]}}
}},
{"data":{"name":"volMa"},"mark":{"type":"line","color":"#8a8a8a","strokeWidth":4,"opacity":0.65}},
{"data":{"name":"volLast"},"mark":{"type":"rule","color":"#ff6b61","strokeWidth":2,"strokeDash":[1,1],"opacity":0.6},"encoding":{"x2":{"field":"end"}}},
{"data":{"name":"volLevels"},"mark":{"type":"rule","color":"#000000","strokeWidth":3,"strokeDash":[5,4]},"encoding":{"x2":{"field":"end"}}},
{"data":{"name":"volBase"},"mark":{"type":"rule","color":"#555555","strokeWidth":3},"encoding":{"x2":{"field":"end"}}}
]},
{"encoding":{"y":{"field":"price","type":"quantitative","axis":null,"scale":{"domain":[782.6,3550.9],"nice":false,"zero":false}}},
"layer":[
{"data":{"name":"lastPrice"},"mark":{"type":"rule","color":"#4e73e8","strokeWidth":2,"strokeDash":[1,1],"opacity":0.55},"encoding":{"x2":{"field":"end"}}},
{"data":{"name":"alerts"},"mark":{"type":"rule","color":"#ff0000","strokeWidth":3,"strokeDash":[5,4]},"encoding":{"x2":{"field":"end"}}},
{"data":{"name":"fib"},"transform":[{"filter":"datum.price != 3447.66"}],"mark":{"type":"rule","color":"#000000","strokeWidth":3},"encoding":{"x2":{"field":"end"}}},
{"data":{"name":"fib"},"mark":{"type":"text","align":"right","baseline":"middle","dx":-14,"dy":16,"font":"DejaVu Sans","fontSize":24.5,"color":"#000000"},"encoding":{"x":{"field":"end","type":"temporal"},"text":{"field":"label"}}},
{"data":{"name":"channelEdges"},"mark":{"type":"line","color":"#000000","strokeWidth":1.2},"encoding":{"detail":{"field":"edge"}}},
{"data":{"name":"channelMid"},"mark":{"type":"line","color":"#000000","strokeWidth":3,"strokeDash":[13,13]}},
{"data":{"name":"trendThin"},"mark":{"type":"line","color":"#000000","strokeWidth":1.2,"strokeDash":[4,6]}},
{"data":{"name":"ma200"},"mark":{"type":"line","color":"#565656","strokeWidth":4.5,"clip":true}},
{"data":{"name":"ema50"},"mark":{"type":"line","color":"#bd5e5b","strokeWidth":4.5,"clip":true}},
{"data":{"name":"ema20"},"mark":{"type":"line","color":"#86ab76","strokeWidth":4.5,"clip":true}},
{"data":{"name":"candles"},"mark":{"type":"rule","color":"#1f5c3e","strokeWidth":2,"clip":true},
"encoding":{"y":{"field":"high","type":"quantitative","axis":null,"scale":{"domain":[782.6,3550.9],"nice":false,"zero":false}},"y2":{"field":"low"}}},
{"data":{"name":"candles"},"mark":{"type":"bar","width":11,"strokeWidth":2.5,"clip":true},
"encoding":{"y":{"field":"open","type":"quantitative","axis":null,"scale":{"domain":[782.6,3550.9],"nice":false,"zero":false}},"y2":{"field":"close"},
"fill":{"field":"dir","type":"nominal","legend":null,"scale":{"domain":["up","down"],"range":["#00c875","#ff6a60"]}},
"stroke":{"field":"dir","type":"nominal","legend":null,"scale":{"domain":["up","down"],"range":["#1f5c3e","#6b1a1a"]}}}},
{"data":{"name":"pin"},"mark":{"type":"point","shape":"circle","filled":true,"size":660,"color":"#0097ff","opacity":1}},
{"data":{"name":"pin"},"mark":{"type":"text","color":"#ffffff","fontWeight":"bold","fontSize":20,"font":"Liberation Sans","baseline":"middle","align":"center"},"encoding":{"text":{"field":"letter"}}},
{"data":{"name":"notes"},"mark":{"type":"text","align":"left","baseline":"middle","font":"Liberation Sans","fontSize":13.2,"color":"#000000"},"encoding":{"text":{"field":"text"}}},
{"data":{"name":"chartName"},"mark":{"type":"text","align":"left","baseline":"middle","font":"Liberation Sans","fontSize":13.2,"fontWeight":"bold","color":"#000000"},"encoding":{"text":{"field":"text"}}},
{"data":{"name":"logoWord"},"mark":{"type":"text","align":"left","baseline":"alphabetic","font":"Liberation Sans","fontSize":41,"fontWeight":"bold","color":"#000000"},"encoding":{"text":{"field":"text"}}},
{"data":{"name":"logoCom"},"mark":{"type":"text","align":"left","baseline":"alphabetic","font":"Liberation Sans","fontSize":26,"color":"#444444"},"encoding":{"text":{"field":"text"}}},
{"data":{"name":"logoDot"},"mark":{"type":"point","shape":"circle","filled":true,"size":45,"color":"#f7a51f","opacity":1}}
]},
{"data":{"name":"stochSpan"},
"layer":[
{"mark":{"type":"rect","color":"#e5cbe6"},"encoding":{"x2":{"field":"end"},
"y":{"datum":80,"type":"quantitative","scale":{"domain":[-8.4,915.4],"nice":false,"zero":false},
"axis":{"orient":"right","title":null,"grid":false,"domain":false,"tickColor":"#555555","tickWidth":2,"tickSize":7,"labelColor":"#555555","labelFont":"Liberation Sans","labelFontSize":22,"labelPadding":6,"labelOverlap":false,"labelFlush":false,"format":".4f","values":[0,40,80]}},
"y2":{"datum":20}}},
{"mark":{"type":"rule","color":"#aaaaaa","strokeWidth":2,"strokeDash":[6,3]},"encoding":{"x2":{"field":"end"},"y":{"datum":80,"type":"quantitative"}}},
{"mark":{"type":"rule","color":"#aaaaaa","strokeWidth":2,"strokeDash":[6,3]},"encoding":{"x2":{"field":"end"},"y":{"datum":20,"type":"quantitative"}}},
{"data":{"name":"stoch"},"mark":{"type":"line","color":"#5a5ae6","strokeWidth":1.1,"opacity":0.9},"encoding":{"y":{"field":"k","type":"quantitative"}}},
{"data":{"name":"stoch"},"mark":{"type":"line","color":"#ef5b5b","strokeWidth":1.1,"opacity":0.9},"encoding":{"y":{"field":"d","type":"quantitative"}}}
]},
{"data":{"name":"badges"},
"encoding":{"y":{"field":"price","type":"quantitative","axis":null,"scale":{"domain":[782.6,3550.9],"nice":false,"zero":false}}},
"layer":[
{"mark":{"type":"rect","height":32},
"encoding":{"x2":{"field":"end"},
"fill":{"field":"series","type":"nominal","legend":null,"scale":{"domain":["ema50","ema20","last","ma200","alert","volLast","volMa","k"],"range":["#990000","#38761d","#4e73e8","#000000","#ff0000","#ff6b61","#000000","#0000ff"]}}}},
{"mark":{"type":"rule","color":"#ffffff","strokeWidth":2,"opacity":0.6},
"encoding":{"x2":{"datum":{"year":2025,"month":7,"date":21,"hours":16,"utc":true}}}},
{"mark":{"type":"text","align":"left","baseline":"middle","font":"Liberation Sans","fontSize":22,"color":"#ffffff"},
"encoding":{"x":{"field":"textAt","type":"temporal"},"text":{"field":"label"}}}
]}
]
}
